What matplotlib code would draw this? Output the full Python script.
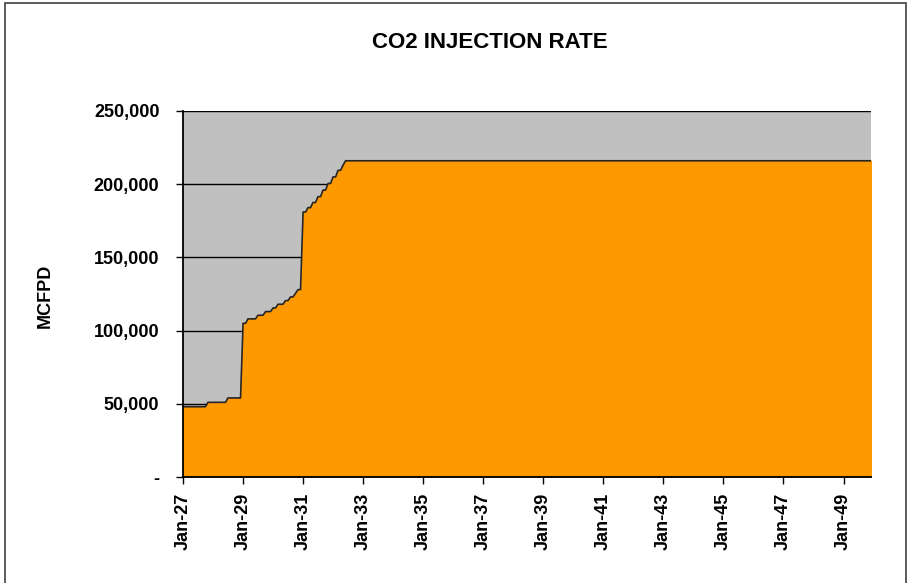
import numpy as np
import matplotlib
matplotlib.use("Agg")
from matplotlib import pyplot as plt
import matplotlib.dates as mdates
from matplotlib.patches import Rectangle
from matplotlib.ticker import FuncFormatter

# monthly injection schedule: the month each rate starts, and the rate (MCFPD)
change_months = ["2027-01", "2027-11", "2028-07", "2029-01", "2029-03", "2029-07",
                 "2029-10", "2030-01", "2030-03", "2030-06", "2030-08", "2030-10",
                 "2030-11", "2031-01", "2031-03", "2031-05", "2031-07", "2031-09",
                 "2031-11", "2032-01", "2032-03", "2032-05", "2032-06"]
change_rates = [48000, 51000, 54000, 105000, 108000, 110500,
                113000, 115500, 118000, 120500, 123000, 125500,
                128000, 181000, 184000, 187500, 191500, 196000,
                200500, 205000, 209500, 213000, 216000]
last_month = "2049-12"

tick_years = list(range(2027, 2050, 2))
y_ticks = [0, 50000, 100000, 150000, 200000, 250000]

# monthly points: the old rate holds until the month before each change
months = []
rates = []
for i, m in enumerate(change_months):
    m = np.datetime64(m, "M")
    if i > 0:
        months.append(m - 1)
        rates.append(change_rates[i - 1])
    months.append(m)
    rates.append(change_rates[i])
months.append(np.datetime64(last_month, "M"))
rates.append(change_rates[-1])
months = np.array(months).astype("datetime64[D]")
rates = np.array(rates)

plt.rcParams['font.family'] = ['Liberation Sans', 'DejaVu Sans']
plt.rcParams['font.weight'] = 'bold'

fig = plt.figure(figsize=(9.12, 5.83), dpi=100)
ax = fig.add_axes([183 / 912, 1 - 477 / 583, 688 / 912, 366 / 583])

ax.set_facecolor('#C0C0C0')
ax.fill_between(months, 0, rates, color='#FF9900', zorder=2)
ax.plot(months, rates, color='#262626', lw=1.2, zorder=3)

ax.set_ylim(0, 250000)
ax.set_xlim(months[0], months[-1])
ax.set_yticks(y_ticks)
ax.yaxis.set_major_formatter(FuncFormatter(lambda v, p: '-' if v == 0 else f'{int(v):,}'))
ax.set_xticks([np.datetime64(f'{y}-01-01') for y in tick_years])
ax.xaxis.set_major_formatter(mdates.DateFormatter('%b-%y'))
ax.grid(axis='y', color='black', lw=1.0, zorder=1)
ax.set_axisbelow(True)

for s in ['top', 'right']:
    ax.spines[s].set_visible(False)
for s in ['left', 'bottom']:
    ax.spines[s].set_color('black')
    ax.spines[s].set_linewidth(1.3)
    ax.spines[s].set_zorder(4)

ax.tick_params(axis='y', length=5, width=1.0, pad=12, labelsize=13)
ax.tick_params(axis='x', length=5, width=1.0, pad=6, labelsize=13, labelrotation=90)

fig.text(490 / 912, 1 - 42 / 583, 'CO2 INJECTION RATE', ha='center', va='center',
         fontsize=16, fontweight='bold')
fig.text(45 / 912, 1 - 296 / 583, 'MCFPD', ha='center', va='center', rotation=90,
         fontsize=13, fontweight='bold')

# chart frame
fig.patches.append(Rectangle((5 / 912, -0.01), 901 / 912, 1.01 - 3 / 583,
                             transform=fig.transFigure, fill=False,
                             edgecolor='#404040', lw=1.2))

fig.savefig('out.png', dpi=100)
